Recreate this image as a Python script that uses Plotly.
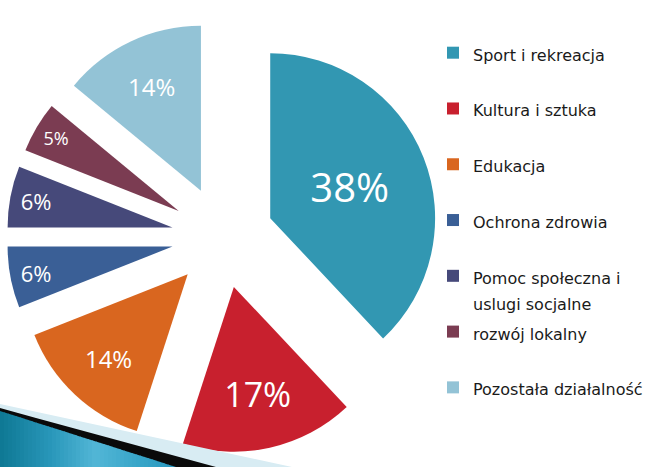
import plotly.graph_objects as go

categories = ["Sport i rekreacja", "Kultura i sztuka", "Edukacja", "Ochrona zdrowia",
              ["Pomoc społeczna i", "uslugi socjalne"], "rozwój lokalny", "Pozostała działalność"]
shares = [38, 17, 14, 6, 6, 5, 14]
colors = ["#3297B2", "#C8202E", "#D9661F", "#3A5F96", "#46497A", "#7B3C52", "#93C3D6"]
label_sizes = [40, 34, 24, 22, 22, 18, 24]

W, H = 652, 467
LEG_TEXT = 16


def legend_label(c):
    lines = c if isinstance(c, list) else [c, "\u00a0"]
    return "<br>".join(f"<span style='font-size:{LEG_TEXT}px'>{l}</span>" for l in lines)


def px(x, y):
    return x / W, 1 - y / H


fig = go.Figure(go.Pie(
    labels=[legend_label(c) for c in categories],
    values=shares,
    sort=False,
    direction="clockwise",
    rotation=0,
    pull=0.31,
    marker=dict(colors=colors, line=dict(width=0)),
    texttemplate="%{value}%",
    textposition="inside",
    insidetextorientation="horizontal",
    insidetextfont=dict(color="white", size=label_sizes, family="Open Sans"),
    domain=dict(x=[6.7 / W, 438.7 / W], y=[1 - 453 / H, 1 - 21 / H]),
    hoverinfo="percent",
))


def path(points):
    s = ""
    for i, (x, y) in enumerate(points):
        xp, yp = px(x, y)
        s += ("M" if i == 0 else "L") + f"{xp},{yp} "
    return s + "Z"


shapes = [
    dict(type="path", xref="paper", yref="paper", path=path([(0, 404), (292, 467), (0, 467)]),
         fillcolor="#D8ECF3", line=dict(width=0), layer="above"),
    dict(type="path", xref="paper", yref="paper", path=path([(36, 418), (216, 467), (0, 467), (0, 408)]),
         fillcolor="#0A0A0A", line=dict(width=0), layer="above"),
]

# decorative gradient band (slide ornament), drawn as thin strips
stops = [(0, (14, 120, 148)), (50, (40, 150, 185)), (95, (82, 182, 214)),
         (140, (55, 165, 200)), (180, (40, 150, 190))]


def col_at(x):
    for (xa, ca), (xb, cb) in zip(stops[:-1], stops[1:]):
        if xa <= x <= xb:
            t = (x - xa) / (xb - xa)
            return "rgb(%d,%d,%d)" % tuple(round(a + (b - a) * t) for a, b in zip(ca, cb))
    return "rgb(%d,%d,%d)" % stops[-1][1]


def top_y(x):
    return 411 + x * 56 / 176


step = 4
x0 = 0
while x0 < 176:
    x1 = min(x0 + step, 176)
    shapes.append(dict(type="path", xref="paper", yref="paper",
                       path=path([(x0, top_y(x0)), (x1 + 0.6, top_y(x1 + 0.6)), (x1 + 0.6, 467), (x0, 467)]),
                       fillcolor=col_at((x0 + x1) / 2), line=dict(width=0), layer="above"))
    x0 = x1

fig.update_layout(
    width=W, height=H,
    margin=dict(l=0, r=0, t=0, b=0),
    paper_bgcolor="white",
    plot_bgcolor="white",
    shapes=shapes,
    showlegend=True,
    legend=dict(
        x=433 / W, y=1 - 33 / H, xanchor="left", yanchor="top",
        font=dict(family="DejaVu Sans", size=20.3, color="#1a1a1a"),
        valign="top",
        traceorder="normal",
        bgcolor="rgba(0,0,0,0)",
    ),
)

fig.write_html("out.html")
